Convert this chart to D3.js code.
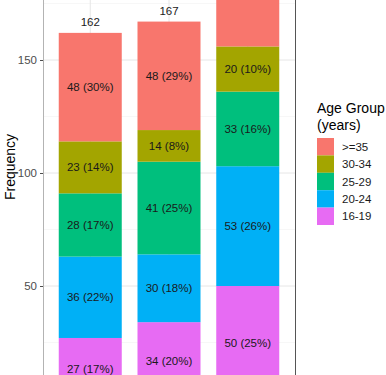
<!DOCTYPE html>
<html>
<head>
<meta charset="utf-8">
<script src="https://cdn.jsdelivr.net/npm/d3@7"></script>
<style>
  body { margin: 0; background: #fff; }
  svg { display: block; font-family: "Liberation Sans", Arial, sans-serif; }
</style>
</head>
<body>
<svg id="chart" width="386" height="375"></svg>
<script>
// categories (x labels are cut off in the picture)
const groups = ["A", "B", "C"];
// age groups, bottom to top of the stack
const ageGroups = ["16-19", "20-24", "25-29", "30-34", ">=35"];
const ageColors = ["#E76BF3", "#00B0F6", "#00BF7D", "#A3A500", "#F8766D"];
// counts per age group, one value for each category
const n1619 = [27, 34, 50];
const n2024 = [36, 30, 53];
const n2529 = [28, 41, 33];
const n3034 = [23, 14, 20];
const nOver35 = [48, 48, 47];
const yTicks = [50, 100, 150];
const yMinor = [25, 75, 125, 175];

function main() {
    const svg = d3.select("#chart");

    const series = [n1619, n2024, n2529, n3034, nOver35];
    const rows = groups.map((g, i) => {
        const r = { group: g };
        ageGroups.forEach((a, j) => { r[a] = series[j][i]; });
        r.total = d3.sum(series, s => s[i]);
        return r;
    });

    // panel
    const panelLeft = 43, panelRight = 295;
    const x = d3.scalePoint().domain(groups).range([panelLeft, panelRight]).padding(0.6);
    const barW = x.step() * 0.8;
    const y = d3.scaleLinear().domain([0, 150]).range([399, 60]);
    const color = d3.scaleOrdinal().domain(ageGroups).range(ageColors);

    // labels that would sit above the picture are left out (cropped in the original)
    const visible = yy => yy > 4;

    // grid lines
    svg.append("g").selectAll("line.minor")
        .data(yMinor).join("line")
        .attr("x1", panelLeft).attr("x2", panelRight)
        .attr("y1", d => y(d)).attr("y2", d => y(d))
        .attr("stroke", "#f2f2f2").attr("stroke-width", 0.6);
    svg.append("g").selectAll("line.major")
        .data(yTicks).join("line")
        .attr("x1", panelLeft).attr("x2", panelRight)
        .attr("y1", d => y(d)).attr("y2", d => y(d))
        .attr("stroke", "#e6e6e6").attr("stroke-width", 1);
    svg.append("g").selectAll("line.vgrid")
        .data(groups).join("line")
        .attr("x1", d => x(d)).attr("x2", d => x(d))
        .attr("y1", 0).attr("y2", 375)
        .attr("stroke", "#e6e6e6").attr("stroke-width", 1);

    // stacked bars
    const stacked = d3.stack().keys(ageGroups)(rows);
    const layers = svg.append("g").selectAll("g")
        .data(stacked).join("g")
        .attr("fill", d => color(d.key));
    layers.selectAll("rect")
        .data(d => d).join("rect")
        .attr("x", d => x(d.data.group) - barW / 2)
        .attr("width", barW)
        .attr("y", d => y(d[1]))
        .attr("height", d => y(d[0]) - y(d[1]));

    // segment labels
    layers.selectAll("text")
        .data(d => d.map(s => ({ s: s, key: d.key }))
            .filter(e => visible(y((e.s[0] + e.s[1]) / 2))))
        .join("text")
        .attr("x", d => x(d.s.data.group))
        .attr("y", d => y((d.s[0] + d.s[1]) / 2))
        .attr("dy", "0.35em")
        .attr("text-anchor", "middle")
        .attr("font-size", 11.5)
        .attr("fill", "#1a1a1a")
        .text(d => {
            const v = d.s.data[d.key];
            return v + " (" + Math.round(v / d.s.data.total * 100) + "%)";
        });

    // totals above bars
    svg.append("g").selectAll("text")
        .data(rows.filter(d => visible(y(d.total) - 11))).join("text")
        .attr("x", d => x(d.group))
        .attr("y", d => y(d.total) - 11)
        .attr("dy", "0.35em")
        .attr("text-anchor", "middle")
        .attr("font-size", 11.5)
        .attr("fill", "#1a1a1a")
        .text(d => d.total);

    // y axis
    const yAxis = svg.append("g")
        .attr("transform", "translate(" + panelLeft + ",0)")
        .call(d3.axisLeft(y).tickValues(yTicks).tickSize(3).tickPadding(3));
    yAxis.select(".domain").remove();
    yAxis.selectAll(".tick line").attr("stroke", "#4d4d4d");
    yAxis.selectAll(".tick text")
        .attr("fill", "#4d4d4d")
        .attr("font-size", 11.5)
        .attr("font-family", "Liberation Sans, Arial, sans-serif");

    // panel edges
    svg.append("line")
        .attr("x1", panelLeft + 0.5).attr("x2", panelLeft + 0.5)
        .attr("y1", 0).attr("y2", 375)
        .attr("stroke", "#b3b3b3").attr("stroke-width", 1);
    svg.append("line")
        .attr("x1", panelRight + 0.5).attr("x2", panelRight + 0.5)
        .attr("y1", 0).attr("y2", 375)
        .attr("stroke", "#555").attr("stroke-width", 1);

    // y title
    svg.append("text")
        .attr("transform", "translate(15,167) rotate(-90)")
        .attr("text-anchor", "middle")
        .attr("font-size", 14)
        .attr("fill", "#000")
        .text("Frequency");

    // legend
    const legend = svg.append("g").attr("transform", "translate(317,0)");
    legend.append("text")
        .attr("x", 0).attr("y", 113)
        .attr("font-size", 14)
        .text("Age Group");
    legend.append("text")
        .attr("x", 0).attr("y", 130)
        .attr("font-size", 14)
        .text("(years)");
    const keyH = 17.4;
    const keys = legend.selectAll("g.key")
        .data(ageGroups.slice().reverse()).join("g")
        .attr("transform", (d, i) => "translate(0," + (138 + i * keyH) + ")");
    keys.append("rect")
        .attr("width", 17).attr("height", keyH)
        .attr("fill", d => color(d));
    keys.append("text")
        .attr("x", 25).attr("y", keyH / 2)
        .attr("dy", "0.35em")
        .attr("font-size", 11.5)
        .attr("fill", "#1a1a1a")
        .text(d => d);
}

main();
</script>
</body>
</html>
